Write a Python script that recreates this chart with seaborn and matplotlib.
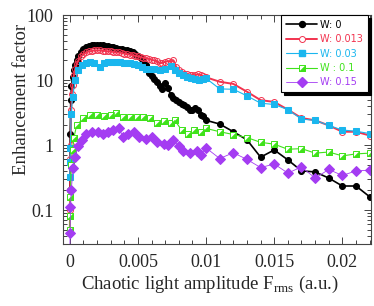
import matplotlib
matplotlib.use('Agg')
import matplotlib.pyplot as plt
import seaborn as sns
from matplotlib.ticker import MultipleLocator, LogLocator, NullFormatter
from matplotlib.lines import Line2D

# data (F_rms, enhancement factor)
F_w0 = [0, 0.00003, 0.00007, 0.00012, 0.0002, 0.0003, 0.0004, 0.0005, 0.0006, 0.0008,
        0.001, 0.0012, 0.0014, 0.0016, 0.0018, 0.002, 0.0022, 0.0024, 0.0026, 0.0028,
        0.003, 0.0032, 0.0034, 0.0036, 0.0038, 0.004, 0.0042, 0.0044, 0.0046, 0.0048,
        0.005, 0.0052, 0.0054, 0.0056, 0.0058, 0.006, 0.0062, 0.0064, 0.0066, 0.0068,
        0.007, 0.0072, 0.0074, 0.0076, 0.0078, 0.008, 0.0082, 0.0084, 0.0086, 0.0088,
        0.009, 0.0092, 0.0094, 0.0096, 0.0098, 0.01, 0.011, 0.012, 0.013, 0.014,
        0.015, 0.016, 0.017, 0.018, 0.019, 0.02, 0.021, 0.022]
E_w0 = [0.2, 1.5, 4.9, 8, 11, 14.5, 17, 20, 23, 27,
        30, 32.5, 33.5, 34.5, 34.5, 35, 34.5, 34, 33.5, 33,
        32.5, 32, 31.5, 30.5, 29.5, 29, 28.5, 27.5, 26.5, 25.5,
        23, 21.5, 20.5, 17, 13, 11.5, 10.5, 9.4, 8.2, 7.4,
        8.9, 7.5, 5.9, 5.3, 5.0, 4.6, 4.3, 4.1, 3.8, 3.5,
        3.5, 3.7, 3.4, 2.9, 2.75, 2.4, 2.1, 1.6, 1.2, 0.65,
        0.84, 0.59, 0.40, 0.385, 0.31, 0.234, 0.234, 0.16]

F_w013 = [0, 0.00002, 0.00004, 0.00006, 0.0001, 0.00015, 0.0002, 0.0003, 0.0004, 0.0005,
          0.0006, 0.0008, 0.001, 0.0012, 0.0014, 0.0016, 0.0018, 0.002, 0.0022, 0.0024,
          0.0026, 0.0028, 0.003, 0.0032, 0.0034, 0.0036, 0.0038, 0.004, 0.0042, 0.0044,
          0.0046, 0.0048, 0.005, 0.0052, 0.0054, 0.0056, 0.0058, 0.006, 0.0062, 0.0064,
          0.0066, 0.0068, 0.007, 0.0072, 0.0074, 0.0076, 0.0078, 0.008, 0.0082, 0.0084,
          0.0086, 0.0088, 0.009, 0.0092, 0.0094, 0.0096, 0.0098, 0.01, 0.011, 0.012,
          0.013, 0.014, 0.015, 0.016, 0.017, 0.018, 0.019, 0.02, 0.021, 0.022]
E_w013 = [0.05, 0.1, 0.6, 1.0, 3.5, 6, 8.5, 12, 15, 17.5,
          19.5, 23, 25, 26.5, 27.5, 28, 28.5, 28.5, 28.5, 28,
          28, 27.5, 27.5, 27, 26.5, 26.5, 26, 25.5, 25, 24.5,
          24, 23.5, 23, 22.5, 22, 21.5, 21, 20.5, 20, 19.5,
          18, 18.5, 19, 19.5, 19, 20, 16, 14.2, 13.5, 12.5,
          12.2, 11.9, 11.9, 11.9, 12.2, 11.9, 11.5, 11.0, 9.4, 8.7,
          6.6, 4.9, 4.6, 3.5, 2.6, 2.4, 2.0, 1.6, 1.6, 1.4]

F_w03 = [0, 0.00002, 0.00004, 0.0001, 0.0002, 0.0004, 0.0006, 0.0009, 0.0012, 0.0015,
         0.0018, 0.0022, 0.0025, 0.0028, 0.0031, 0.0034, 0.0037, 0.004, 0.0044, 0.0047,
         0.005, 0.0053, 0.0056, 0.0059, 0.0062, 0.0066, 0.007, 0.0074, 0.0077, 0.008,
         0.0083, 0.0086, 0.0089, 0.0092, 0.0095, 0.0098, 0.01, 0.011, 0.012, 0.013,
         0.014, 0.015, 0.016, 0.017, 0.018, 0.019, 0.02, 0.021, 0.022]
E_w03 = [0.32, 0.55, 0.9, 3.0, 5.4, 10, 14.2, 17, 18.5, 19.2,
         18, 16, 18, 19.2, 19.2, 19, 19, 18.5, 18, 17.5,
         17, 16, 15, 15, 15, 14.2, 15, 16.5, 14.5, 12.7,
         11.9, 11.2, 10.6, 10.3, 10, 10.2, 10.6, 7.3, 7.2, 5.7,
         4.4, 4.2, 3.5, 2.5, 2.4, 2.0, 1.7, 1.63, 1.5]

F_w1 = [0, 0.00002, 0.00004, 0.0001, 0.0002, 0.0003, 0.0005, 0.001, 0.0015, 0.002,
        0.0025, 0.003, 0.0034, 0.0039, 0.0044, 0.0049, 0.0054, 0.0059, 0.0064, 0.0069,
        0.0074, 0.0077, 0.0082, 0.0087, 0.0091, 0.0096, 0.01, 0.011, 0.012, 0.013,
        0.014, 0.015, 0.016, 0.017, 0.018, 0.019, 0.02, 0.021, 0.022]
E_w1 = [0.05, 0.08, 0.16, 0.5, 0.85, 1.3, 2.0, 2.6, 2.9, 2.9,
        2.8, 2.9, 3.1, 2.7, 2.7, 2.7, 2.7, 2.6, 2.2, 2.3,
        2.2, 2.4, 1.7, 1.5, 1.7, 1.6, 1.8, 1.6, 1.45, 1.3,
        1.1, 1.03, 0.86, 0.88, 0.75, 0.78, 0.68, 0.73, 0.75]

F_w15 = [0, 0.00002, 0.00005, 0.0001, 0.00025, 0.00037, 0.0006, 0.00086, 0.0012, 0.0016,
         0.0021, 0.0024, 0.0028, 0.0032, 0.0036, 0.0039, 0.0043, 0.0047, 0.0051, 0.0056,
         0.006, 0.0064, 0.0069, 0.0072, 0.0076, 0.008, 0.0083, 0.0088, 0.0093, 0.0096,
         0.01, 0.011, 0.012, 0.013, 0.014, 0.015, 0.016, 0.017, 0.018, 0.019,
         0.02, 0.021, 0.022]
E_w15 = [0.02, 0.045, 0.11, 0.2, 0.44, 0.66, 0.95, 1.2, 1.5, 1.6,
         1.6, 1.5, 1.6, 1.7, 1.8, 1.35, 1.5, 1.6, 1.35, 1.25,
         1.35, 1.1, 1.05, 1.0, 1.2, 0.95, 0.8, 0.75, 0.8, 0.7,
         0.9, 0.62, 0.76, 0.6, 0.45, 0.51, 0.37, 0.46, 0.31, 0.42,
         0.34, 0.4, 0.41]

labels = ['W: 0', 'W: 0.013', 'W: 0.03', 'W : 0.1', 'W: 0.15']
colors = ['black', '#f2334f', '#1ab6ee', '#3fe21a', '#a43cf2']

sns.set_style('ticks')
plt.rcParams['font.family'] = ['Liberation Serif', 'DejaVu Serif']
plt.rcParams['mathtext.fontset'] = 'custom'
plt.rcParams['mathtext.rm'] = 'Liberation Serif'

fig = plt.figure(figsize=(3.74, 3.06), dpi=100)
ax = fig.add_axes([63 / 374, 1 - 244 / 306, 308 / 374, 229 / 306])

kw = dict(ax=ax, estimator=None, sort=False)
sns.lineplot(x=F_w0, y=E_w0, color=colors[0], lw=1.2, marker='o', ms=4.3,
             mec=colors[0], mfc=colors[0], **kw)
sns.lineplot(x=F_w013, y=E_w013, color=colors[1], lw=1.4, marker='o', ms=4.3,
             mec=colors[1], mfc='none', mew=0.7, **kw)
sns.lineplot(x=F_w03, y=E_w03, color=colors[2], lw=0.8, marker='s', ms=5,
             mec=colors[2], mfc=colors[2], **kw)
tri = [(-1, -1), (1, -1), (1, 1), (-1, -1)]
sns.lineplot(x=F_w1, y=E_w1, color=colors[3], lw=0.8, marker='s', ms=4.6,
             mec=colors[3], mfc='white', mew=0.7, **kw)
sns.lineplot(x=F_w1, y=E_w1, color=colors[3], lw=0, marker=tri, ms=4.6,
             mec=colors[3], mfc=colors[3], mew=0.3, **kw)
sns.lineplot(x=F_w15, y=E_w15, color=colors[4], lw=0.6, marker='D', ms=4.6,
             mec=colors[4], mfc=colors[4], **kw)

ax.set_yscale('log')
ax.set_ylim(0.03, 100)
ax.set_xlim(-0.0005, 0.0221)
ax.set_xticks([0, 0.005, 0.01, 0.015, 0.02])
ax.set_xticklabels(['0', '0.005', '0.01', '0.015', '0.02'])
ax.xaxis.set_minor_locator(MultipleLocator(0.001))
ax.set_yticks([0.1, 1, 10, 100])
ax.set_yticklabels(['0.1', '1', '10', '100'])
ax.yaxis.set_minor_locator(LogLocator(base=10, subs=range(2, 10)))
ax.yaxis.set_minor_formatter(NullFormatter())
ax.tick_params(which='both', direction='in', top=True, right=True,
               labelsize=13, color='#444444', width=0.7)
ax.tick_params(which='major', length=5, pad=7)
ax.tick_params(which='minor', length=3)
for s in ax.spines.values():
    s.set_color('#444444')
    s.set_linewidth(0.8)

ax.set_xlabel('Chaotic light amplitude F$_{\\rm rms}$ (a.u.)', fontsize=13.5)
ax.set_ylabel('Enhancement factor', fontsize=13.5)
ax.xaxis.set_label_coords(0.477, -0.13)
ax.yaxis.set_label_coords(-0.107, 0.633)

# legend
h = [
    Line2D([], [], color=colors[0], lw=1.2, marker='o', ms=4.3, mfc=colors[0]),
    Line2D([], [], color=colors[1], lw=1.4, marker='o', ms=4.3, mfc='white', mew=0.7),
    Line2D([], [], color=colors[2], lw=0.8, marker='s', ms=5, mfc=colors[2]),
    (Line2D([], [], color=colors[3], lw=0.8, marker='s', ms=4.6, mfc='white', mew=0.7),
     Line2D([], [], color=colors[3], lw=0, marker=tri, ms=4.6, mfc=colors[3], mew=0.3)),
    Line2D([], [], color=colors[4], lw=0.6, marker='D', ms=4.6, mfc=colors[4]),
]
leg = ax.legend(h, labels, loc='upper right', bbox_to_anchor=(0.99, 1.0),
                borderaxespad=0, prop={'family': 'DejaVu Sans', 'size': 7},
                handlelength=3.2, labelspacing=0.45, handletextpad=0.3,
                borderpad=0.5, fancybox=False, framealpha=1,
                edgecolor='black', shadow={'color': 'black', 'alpha': 1})
leg.get_frame().set_linewidth(0.8)
for t, c in zip(leg.get_texts(), colors):
    t.set_color(c)

fig.savefig('out.png', dpi=100)
